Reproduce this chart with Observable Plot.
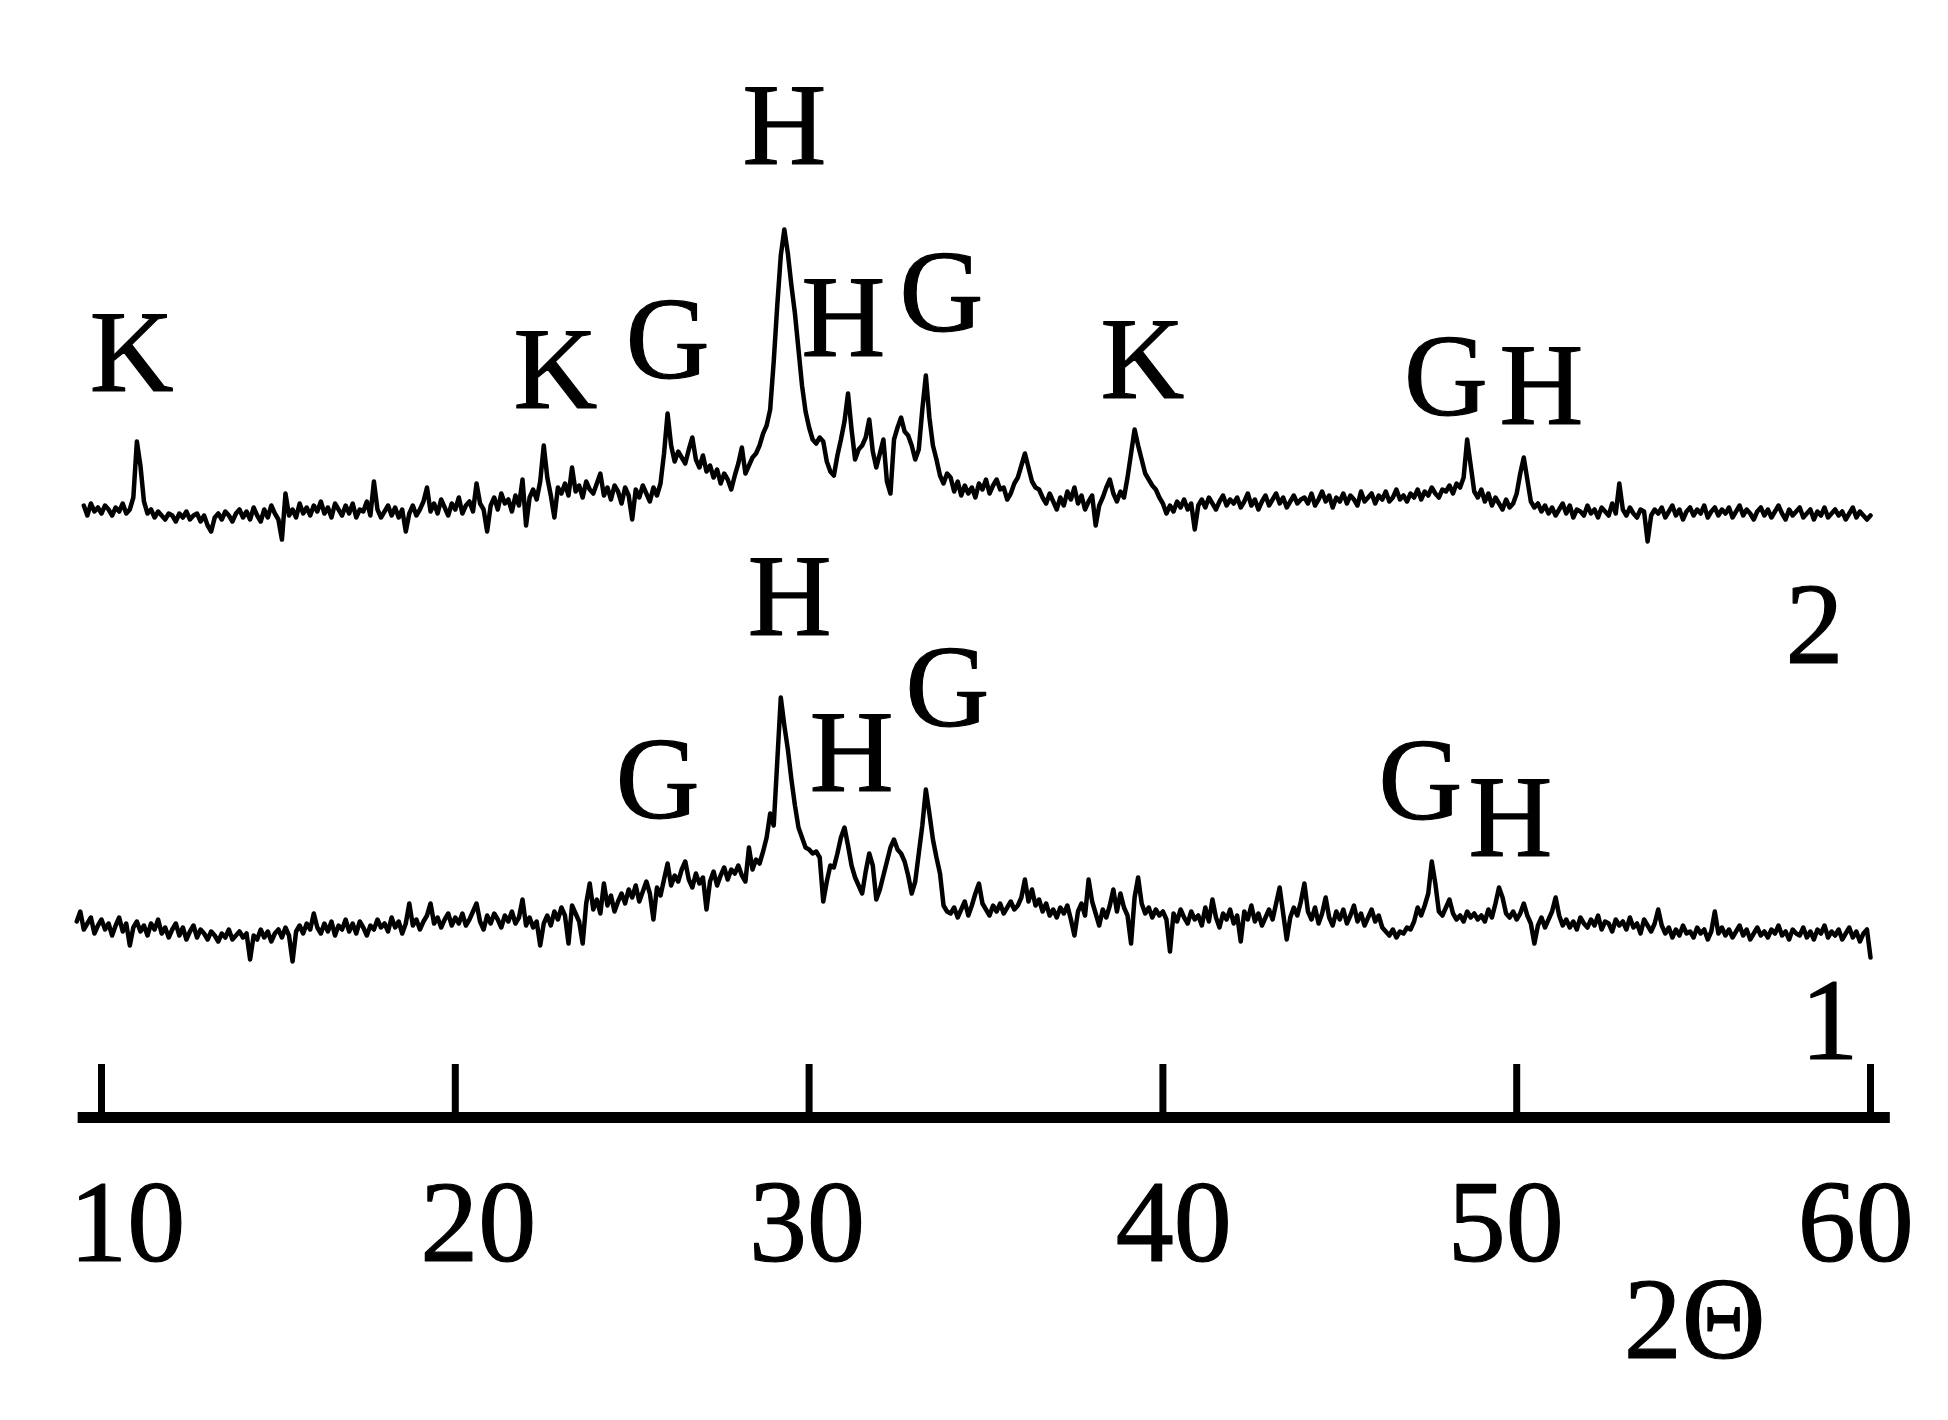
<!DOCTYPE html>
<html>
<head>
<meta charset="utf-8">
<script src="https://cdn.jsdelivr.net/npm/d3@7"></script>
<script src="https://cdn.jsdelivr.net/npm/@observablehq/plot@0.6"></script>
<style>
  html, body { margin: 0; padding: 0; background: #fff; }
  svg { display: block; }
</style>
</head>
<body>
<script>
// ---- DATA ----
// x ticks (2θ, degrees) and where their printed labels sit
const ticks = [10, 20, 30, 40, 50, 60];
const tickLabels = ["10", "20", "30", "40", "50", "60"];
const tickLabelTheta = [10.73, 20.65, 29.94, 40.31, 49.69, 59.58];

// Trace 2 (upper pattern): intensity (a.u.) per 0.1°, one row per degree starting at 9°
const trace2 = [
  [null, null, null, null, null, 8, 3, 9, 5, 7],          // 9
  [4, 8, 6, 3, 7, 5, 9, 4, 6, 12],                        // 10
  [40, 28, 10, 4, 6, 2, 5, 3, 1, 4],                      // 11
  [3, 0, 4, 2, 5, 1, 3, 4, 0, 3],                         // 12
  [-2, -5, 2, 4, 1, 5, 3, 0, 4, 6],                       // 13
  [2, 5, 1, 7, 3, 0, 6, 2, 8, 4],                         // 14
  [1, -9, 14, 3, 6, 2, 9, 4, 7, 3],                       // 15
  [8, 5, 10, 4, 7, 2, 9, 6, 3, 8],                        // 16
  [4, 9, 2, 6, 5, 10, 3, 20, 6, 2],                       // 17
  [5, 8, 3, 7, 2, 6, -5, 4, 8, 3],                        // 18
  [6, 10, 17, 5, 9, 4, 11, 7, 3, 9],                      // 19
  [6, 12, 4, 8, 10, 5, 19, 9, 6, -5],                     // 20
  [8, 12, 6, 14, 9, 11, 5, 13, 8, 21],                    // 21
  [-2, 12, 16, 11, 20, 38, 22, 13, 2, 17],                // 22
  [14, 19, 13, 27, 15, 18, 12, 20, 16, 14],               // 23
  [19, 24, 13, 17, 11, 18, 15, 9, 17, 13],                // 24
  [1, 16, 12, 18, 14, 10, 17, 13, 19, 34],                // 25
  [54, 38, 30, 35, 32, 29, 36, 42, 31, 27],               // 26
  [33, 25, 28, 22, 26, 19, 24, 21, 16, 23],               // 27
  [29, 37, 24, 28, 32, 34, 38, 44, 48, 56],               // 28
  [80, 108, 133, 146, 134, 118, 104, 86, 68, 55],         // 29
  [47, 41, 39, 42, 40, 30, 25, 23, 33, 41],               // 30
  [50, 64, 46, 31, 36, 38, 42, 51, 35, 27],               // 31
  [34, 41, 20, 14, 41, 47, 52, 45, 43, 38],               // 32
  [31, 36, 56, 73, 52, 38, 31, 23, 19, 24],               // 33
  [22, 15, 20, 13, 18, 14, 17, 12, 19, 16],               // 34
  [21, 14, 18, 21, 16, 17, 11, 14, 19, 22],               // 35
  [28, 34, 27, 20, 17, 16, 12, 9, 14, 10],                // 36
  [6, 12, 8, 15, 11, 17, 9, 13, 6, 10],                   // 37
  [13, -2, 8, 12, 17, 21, 14, 10, 15, 12],                // 38
  [22, 34, 46, 38, 31, 24, 21, 18, 16, 12],               // 39
  [9, 4, 8, 5, 10, 7, 11, 6, 9, -4],                      // 40
  [8, 11, 7, 12, 9, 6, 10, 13, 8, 11],                    // 41
  [9, 12, 7, 10, 14, 8, 11, 6, 10, 13],                   // 42
  [8, 11, 14, 9, 12, 7, 10, 13, 9, 11],                   // 43
  [12, 9, 14, 8, 11, 15, 10, 13, 7, 12],                  // 44
  [10, 14, 9, 13, 11, 8, 15, 10, 12, 14],                 // 45
  [9, 13, 11, 15, 10, 12, 16, 11, 13, 10],                // 46
  [14, 12, 16, 11, 15, 13, 17, 14, 12, 16],               // 47
  [15, 18, 14, 19, 17, 22, 41, 28, 15, 12],               // 48
  [16, 10, 14, 8, 12, 9, 6, 11, 7, 9],                    // 49
  [14, 24, 32, 21, 10, 7, 9, 5, 8, 4],                    // 50
  [7, 3, 6, 9, 4, 8, 2, 6, 5, 3],                         // 51
  [8, 4, 6, 2, 7, 5, 3, 9, 4, 19],                        // 52
  [6, 3, 7, 4, 2, 6, 5, -10, 3, 6],                       // 53
  [4, 7, 2, 5, 8, 3, 6, 1, 5, 7],                         // 54
  [3, 6, 4, 8, 2, 5, 7, 3, 6, 4],                         // 55
  [7, 2, 5, 8, 3, 6, 4, 1, 5, 7],                         // 56
  [3, 6, 2, 5, 8, 4, 1, 6, 3, 5],                         // 57
  [7, 2, 4, 6, 1, 5, 3, 7, 2, 4],                         // 58
  [6, 3, 5, 1, 4, 7, 2, 5, 3, 1],                         // 59
  [3]                                                     // 60
];

// Trace 1 (lower pattern)
const trace1 = [
  [null, null, null, 10, 15, 6, 9, 12, 4, 8],             // 9
  [11, 6, 9, 3, 8, 12, 5, 9, -2, 7],                      // 10
  [10, 5, 8, 3, 9, 6, 11, 4, 7, 2],                       // 11
  [6, 9, 3, 7, 1, 5, 8, 2, 6, 4],                         // 12
  [1, 5, 3, 0, 4, 2, 6, 1, 3, 5],                         // 13
  [2, 4, -9, 3, 1, 6, 2, 5, 0, 4],                        // 14
  [6, 2, 7, 3, -10, 5, 8, 4, 9, 6],                       // 15
  [14, 7, 4, 9, 5, 10, 3, 8, 6, 11],                      // 16
  [5, 9, 4, 10, 7, 3, 8, 6, 11, 7],                       // 17
  [9, 5, 12, 7, 10, 4, 9, 19, 8, 11],                     // 18
  [6, 10, 13, 19, 9, 12, 7, 11, 14, 8],                   // 19
  [12, 9, 14, 8, 11, 15, 19, 10, 6, 13],                  // 20
  [9, 14, 11, 7, 13, 10, 15, 9, 12, 21],                  // 21
  [8, 12, 7, 10, -2, 9, 13, 8, 15, 11],                   // 22
  [17, 13, -1, 18, 14, 10, -1, 19, 29, 16],               // 23
  [21, 14, 29, 18, 23, 15, 20, 24, 19, 26],               // 24
  [22, 28, 20, 25, 30, 24, 11, 27, 23, 31],               // 25
  [39, 28, 33, 30, 36, 40, 31, 27, 34, 29],               // 26
  [32, 16, 30, 35, 28, 33, 37, 31, 36, 34],               // 27
  [38, 33, 30, 47, 36, 41, 39, 45, 52, 64],               // 28
  [58, 90, 122, 108, 96, 81, 68, 57, 52, 47],             // 29
  [46, 44, 45, 42, 20, 30, 38, 37, 44, 52],               // 30
  [57, 48, 38, 32, 28, 24, 35, 44, 38, 21],               // 31
  [26, 33, 40, 47, 51, 46, 44, 40, 33, 24],               // 32
  [30, 44, 58, 76, 64, 51, 42, 34, 18, 15],               // 33
  [14, 17, 12, 16, 20, 13, 18, 24, 29, 19],               // 34
  [16, 13, 18, 15, 19, 14, 17, 20, 16, 18],               // 35
  [22, 31, 20, 26, 18, 21, 15, 19, 13, 16],               // 36
  [12, 17, 14, 18, 11, 3, 15, 19, 13, 31],                // 37
  [20, 14, 8, 16, 12, 18, 26, 15, 24, 17],                // 38
  [13, -1, 22, 32, 19, 14, 17, 12, 16, 13],               // 39
  [15, 11, -5, 14, 10, 16, 12, 9, 15, 11],                // 40
  [13, 8, 17, 10, 21, 12, 7, 14, 11, 16],                 // 41
  [9, 13, 0, 15, 11, 18, 10, 14, 8, 12],                  // 42
  [16, 11, 19, 27, 14, 1, 12, 17, 13, 20],                // 43
  [29, 15, 11, 17, 9, 14, 22, 12, 8, 15],                 // 44
  [11, 16, 9, 13, 18, 10, 14, 8, 12, 16],                 // 45
  [10, 13, 7, 5, 3, 6, 2, 5, 4, 7],                       // 46
  [6, 10, 17, 13, 18, 24, 40, 29, 15, 13],                // 47
  [17, 21, 14, 11, 13, 10, 15, 12, 14, 11],               // 48
  [13, 10, 16, 12, 19, 27, 22, 14, 12, 15],               // 49
  [11, 14, 19, 13, 9, -1, 8, 12, 7, 11],                  // 50
  [15, 22, 13, 8, 11, 7, 10, 6, 12, 9],                   // 51
  [7, 11, 8, 13, 6, 10, 9, 5, 11, 8],                     // 52
  [10, 6, 12, 7, 9, 4, 11, 8, 5, 9],                      // 53
  [16, 8, 4, 7, 2, 6, 3, 8, 4, 5],                        // 54
  [2, 7, 4, 6, 1, 5, 15, 4, 7, 3],                        // 55
  [6, 2, 5, 8, 3, 6, 1, 4, 7, 3],                         // 56
  [5, 2, 6, 4, 8, 3, 5, 1, 6, 4],                         // 57
  [3, 7, 2, 5, 1, 6, 4, 8, 2, 5],                         // 58
  [3, 6, 1, 4, 7, 2, 5, 0, 4, 6],                         // 59
  [-8]                                                    // 60
];

// vertical stacking offsets of the two patterns (a.u.)
const offset2 = 298;
const offset1 = 88;

// phase labels, pattern 2
const letters2 = ["K", "K", "G", "H", "H", "G", "K", "G", "H"];
const letters2Theta = [10.85, 22.83, 26.0, 29.3, 30.97, 33.74, 39.42, 48.0, 50.7];
const letters2Y = [363.5, 355, 370, 477, 381, 393.5, 360, 351.5, 347];

// phase labels, pattern 1
const letters1 = ["G", "H", "H", "G", "G", "H"];
const letters1Theta = [25.72, 29.45, 31.2, 33.91, 47.28, 49.82];
const letters1Y = [150, 241.5, 163.5, 196, 149.5, 131];

// pattern numbers
const patternNames = ["2", "1"];
const patternNameTheta = [58.42, 58.84];
const patternNameY = [227.5, 29.5];

const axisTitle = "2\u0398";

// ---- BUILD ----
function toPoints(rows, offset, id) {
  const out = [];
  rows.forEach((row, r) => {
    row.forEach((v, j) => {
      out.push({
        theta: Math.round((9 + r + j * 0.1) * 10) / 10,
        I: v == null ? NaN : v + offset,
        pattern: id
      });
    });
  });
  return out;
}
const pts2 = toPoints(trace2, offset2, "2");
const pts1 = toPoints(trace1, offset1, "1");

const lbl2 = letters2.map((t, i) => ({t, x: letters2Theta[i], y: letters2Y[i]}));
const lbl1 = letters1.map((t, i) => ({t, x: letters1Theta[i], y: letters1Y[i]}));
const names = patternNames.map((t, i) => ({t, x: patternNameTheta[i], y: patternNameY[i]}));
const tickData = ticks.map((v, i) => ({v, label: tickLabels[i], lx: tickLabelTheta[i]}));

const FONT = "Liberation Serif, Times New Roman, serif";
const FS = 116;
const txt = {fontFamily: FONT, fontSize: FS, lineAnchor: "bottom", fill: "#000", stroke: "#000", strokeWidth: 1.2};

const chart = Plot.plot({
  width: 1948,
  height: 1420,
  marginLeft: 101,
  marginRight: 78,
  marginTop: 0,
  marginBottom: 303,
  x: {domain: [10, 60], axis: null},
  y: {domain: [0, 558.5], axis: null},
  marks: [
    // axis baseline
    Plot.ruleY([0], {x1: 9.34, x2: 60.56, stroke: "#000", strokeWidth: 11}),
    // upward ticks
    Plot.ruleX(tickData, {x: "v", y1: 0, y2: 26.5, stroke: "#000", strokeWidth: 7}),
    // tick labels
    Plot.text(tickData, {x: "lx", y: -71.5, text: "label", ...txt}),
    Plot.text([axisTitle], {x: 55.03, y: -120, text: d => d, ...txt}),
    // diffraction patterns
    Plot.line(pts2, {x: "theta", y: "I", stroke: "#000", strokeWidth: 4.5, strokeLinejoin: "round"}),
    Plot.line(pts1, {x: "theta", y: "I", stroke: "#000", strokeWidth: 4.5, strokeLinejoin: "round"}),
    // phase letters
    Plot.text(lbl2, {x: "x", y: "y", text: "t", ...txt}),
    Plot.text(lbl1, {x: "x", y: "y", text: "t", ...txt}),
    // pattern numbers
    Plot.text(names, {x: "x", y: "y", text: "t", ...txt})
  ]
});
document.body.appendChild(chart);
</script>
</body>
</html>
